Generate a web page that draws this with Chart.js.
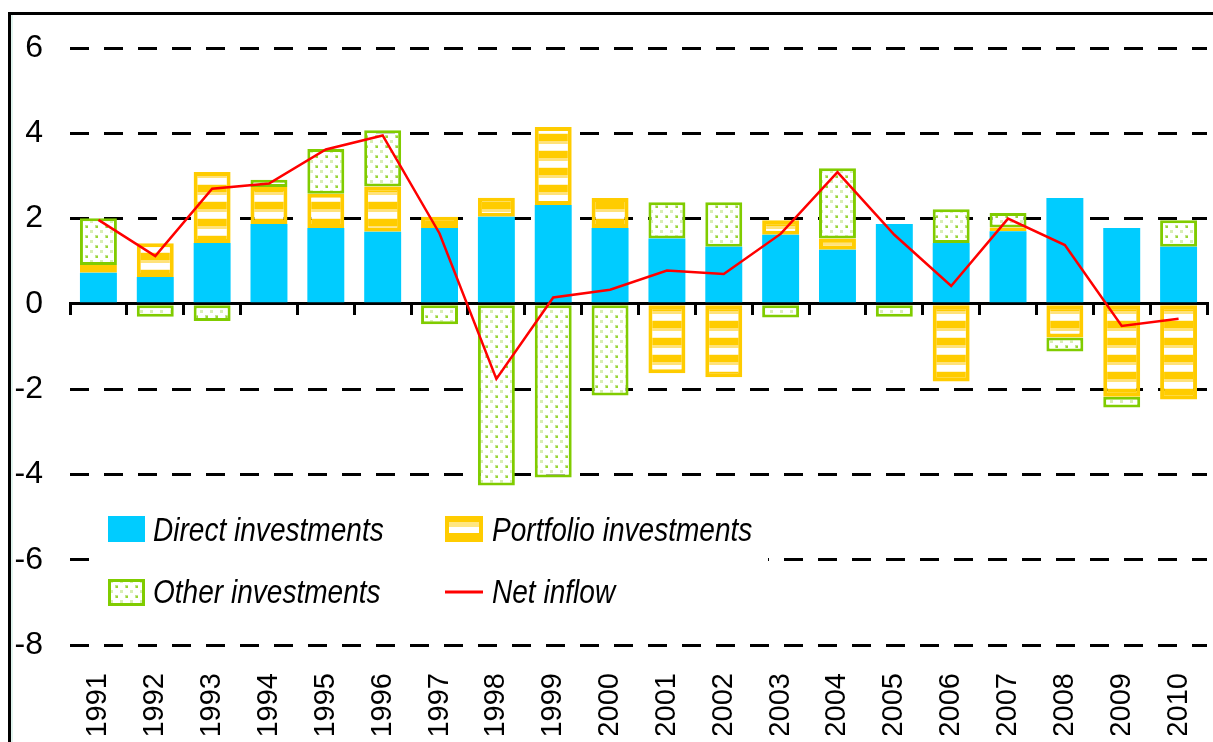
<!DOCTYPE html>
<html>
<head>
<meta charset="utf-8">
<script src="https://cdn.jsdelivr.net/npm/chart.js@4.4.1/dist/chart.umd.min.js"></script>
<style>
  html, body { margin: 0; padding: 0; background: #fff; }
  #wrap { position: relative; width: 1213px; height: 742px; overflow: hidden; }
  #frame { position: absolute; left: 8px; top: 12px; width: 1300px; height: 900px;
           border-left: 3px solid #000; border-top: 3px solid #000;
           box-shadow: inset 2px 0 0 #e0f4ee; }
  canvas { position: absolute; left: 0; top: 0; }
</style>
</head>
<body>
<div id="wrap">
  <div id="frame"></div>
  <canvas id="chart" width="1213" height="742"></canvas>
</div>
<script>
// values
const years = ['1991', '1992', '1993', '1994', '1995', '1996', '1997', '1998', '1999', '2000',
               '2001', '2002', '2003', '2004', '2005', '2006', '2007', '2008', '2009', '2010'];
const direct = [0.73, 0.63, 1.43, 1.87, 1.78, 1.69, 1.78, 2.04, 2.32, 1.78,
                1.53, 1.34, 1.62, 1.27, 1.87, 1.43, 1.70, 2.48, 1.78, 1.34];
const portfolio = [0.18, 0.79, 1.66, 0.87, 0.80, 1.06, 0.26, 0.45, 1.83, 0.70,
                   -1.63, -1.72, 0.34, 0.26, 0, -1.82, 0.09, -0.79, -2.18, -2.24];
const other = [1.10, -0.30, -0.40, 0.17, 1.05, 1.32, -0.48, -4.26, -4.07, -2.15,
               0.85, 1.04, -0.32, 1.65, -0.30, 0.79, 0.34, -0.33, -0.25, 0.62];
const netInflow = [1.97, 1.12, 2.70, 2.82, 3.62, 3.95, 1.65, -1.76, 0.15, 0.33,
                   0.78, 0.70, 1.64, 3.09, 1.62, 0.42, 2.00, 1.38, -0.52, -0.35];
const yTicks = [-8, -6, -4, -2, 0, 2, 4, 6];

const canvas = document.getElementById('chart');
const ctx = canvas.getContext('2d');

// yellow with white horizontal stripes
function stripePattern() {
    const c = document.createElement('canvas');
    c.width = 8; c.height = 17;
    const g = c.getContext('2d');
    g.fillStyle = '#FFCC00'; g.fillRect(0, 0, 8, 17);
    g.fillStyle = '#FFE27A'; g.fillRect(0, 5, 8, 3);
    g.fillStyle = '#FFFFFF'; g.fillRect(0, 8, 8, 6);
    g.fillStyle = '#FFF3C8'; g.fillRect(0, 14, 8, 1);
    return ctx.createPattern(c, 'repeat');
}

// white with light green speckles
function dotPattern() {
    const c = document.createElement('canvas');
    c.width = 10; c.height = 10;
    const g = c.getContext('2d');
    g.fillStyle = '#FFFFFF'; g.fillRect(0, 0, 10, 10);
    g.fillStyle = '#D8EEB4'; g.fillRect(0, 0, 3, 3);
    g.fillStyle = '#C4E48E'; g.fillRect(5, 5, 3, 3);
    g.fillStyle = '#9AD634'; g.fillRect(6, 6, 2, 2);
    return ctx.createPattern(c, 'repeat');
}

const stripes = stripePattern();
const dots = dotPattern();

// narrow italic text, squeezed since no narrow face is installed
function narrowText(c, text, x, y) {
    c.save();
    c.translate(x, y);
    c.scale(0.85, 1);
    c.fillText(text, 0, 0);
    c.restore();
}

// legend sits inside the plot, over a white patch
const legendBox = {
    id: 'legendBox',
    afterDraw(chart) {
        const c = chart.ctx;
        const ds = chart.data.datasets;
        c.save();
        c.fillStyle = '#fff';
        c.fillRect(92, 505, 676, 115);

        // Direct investments
        c.fillStyle = '#00CCFF';
        c.fillRect(108, 516, 37, 26);
        // Portfolio investments
        c.fillStyle = '#FFCC00';
        c.fillRect(445, 516, 38, 26);
        c.fillStyle = '#FFE680';
        c.fillRect(449, 522, 30, 5);
        c.fillStyle = '#FFFFFF';
        c.fillRect(449, 527, 30, 6);
        // Other investments
        c.fillStyle = '#80CC00';
        c.fillRect(108, 579, 37, 27);
        c.fillStyle = dots;
        c.fillRect(111, 582, 31, 21);
        // Net inflow
        c.strokeStyle = '#FF0000';
        c.lineWidth = 3;
        c.beginPath();
        c.moveTo(445, 592);
        c.lineTo(483, 592);
        c.stroke();

        c.fillStyle = '#000';
        c.font = 'italic 33px "Liberation Sans", Arial, sans-serif';
        c.textBaseline = 'alphabetic';
        narrowText(c, ds[0].label, 153, 541);
        narrowText(c, ds[1].label, 492, 541);
        narrowText(c, ds[2].label, 153, 603);
        narrowText(c, ds[3].label, 492, 603);
        c.restore();
    }
};

new Chart(ctx, {
    data: {
        labels: years,
        datasets: [
            {
                type: 'bar',
                label: 'Direct investments',
                data: direct,
                backgroundColor: '#00CCFF',
                borderWidth: 0,
                order: 1
            },
            {
                type: 'bar',
                label: 'Portfolio investments',
                data: portfolio,
                backgroundColor: stripes,
                borderColor: '#FFCC00',
                borderWidth: 4,
                borderSkipped: false,
                order: 1
            },
            {
                type: 'bar',
                label: 'Other investments',
                data: other,
                backgroundColor: dots,
                borderColor: '#80CC00',
                borderWidth: 3,
                borderSkipped: false,
                order: 1
            },
            {
                type: 'line',
                label: 'Net inflow',
                data: netInflow,
                borderColor: '#FF0000',
                borderWidth: 2.5,
                pointRadius: 0,
                tension: 0,
                fill: false,
                stack: 'net',
                order: 0
            }
        ]
    },
    options: {
        responsive: false,
        animation: false,
        datasets: {
            bar: { barPercentage: 0.65, categoryPercentage: 1 }
        },
        layout: { padding: { left: 8, right: 6, top: 48, bottom: 7 } },
        plugins: {
            legend: { display: false },
            tooltip: { enabled: false }
        },
        scales: {
            x: {
                stacked: true,
                grid: { display: false, drawTicks: false },
                border: { display: false },
                ticks: {
                    autoSkip: false,
                    minRotation: 90,
                    maxRotation: 90,
                    padding: 28,
                    color: '#000',
                    font: { family: '"Liberation Sans", Arial, sans-serif', size: 29 }
                },
                afterFit(scale) {
                    scale.height = 90;
                    scale.paddingLeft = 0;
                    scale.paddingRight = 0;
                }
            },
            x2: {
                type: 'category',
                labels: years,
                position: { y: 0 },
                offset: true,
                z: 1,
                grid: { drawOnChartArea: false, offset: true, tickLength: 10, lineWidth: 3, color: '#000' },
                border: { display: true, width: 3, color: '#000' },
                ticks: { display: false },
                afterFit(scale) {
                    scale.paddingLeft = 0;
                    scale.paddingRight = 0;
                }
            },
            y: {
                stacked: true,
                min: yTicks[0],
                max: yTicks[yTicks.length - 1],
                afterBuildTicks(scale) { scale.ticks = yTicks.map(v => ({ value: v })); },
                ticks: {
                    padding: 27,
                    color: '#000',
                    font: { family: '"Liberation Sans", Arial, sans-serif', size: 32 }
                },
                grid: {
                    color: c => (c.tick && c.tick.value === 0) ? 'rgba(0,0,0,0)' : '#000',
                    lineWidth: 3,
                    drawTicks: false
                },
                border: { display: false, dash: [19, 15] },
                afterFit(scale) { scale.width = 62; }
            }
        }
    },
    plugins: [legendBox]
});
</script>
</body>
</html>
